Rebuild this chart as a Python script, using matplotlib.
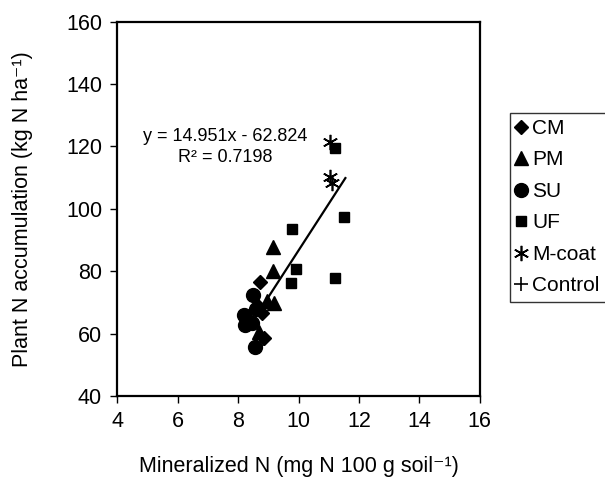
import numpy as np
import matplotlib
matplotlib.use("Agg")
import matplotlib.pyplot as plt

plt.rcParams['font.family'] = ['Liberation Sans', 'DejaVu Sans']

# values
cm_x = [8.72, 8.80, 8.85, 8.65]
cm_y = [76.7, 66.5, 58.5, 69.0]
pm_x = [9.15, 9.15, 9.20, 8.95, 8.70]
pm_y = [87.9, 80.2, 69.8, 70.5, 60.5]
su_x = [8.50, 8.20, 8.22, 8.45, 8.55, 8.60]
su_y = [72.4, 66.0, 62.8, 63.5, 55.8, 68.0]
uf_x = [11.20, 11.50, 9.78, 9.93, 9.74, 11.20]
uf_y = [119.5, 97.3, 93.6, 80.7, 76.1, 77.8]
mc_x = [11.05, 11.05, 11.10]
mc_y = [121.5, 110.3, 108.3]
ctrl_x = [8.62]
ctrl_y = [56.5]

slope = 14.951
intercept = -62.824
fit_x = [8.95, 11.55]

fig = plt.figure(figsize=(6.05, 4.79), dpi=100)
ax = fig.add_axes([0.194, 0.173, 0.599, 0.782])

ax.plot(cm_x, cm_y, 'D', color='black', ms=7.5, ls='none', label='CM')
ax.plot(pm_x, pm_y, '^', color='black', ms=10, ls='none', label='PM')
ax.plot(su_x, su_y, 'o', color='black', ms=10, ls='none', label='SU')
ax.plot(uf_x, uf_y, 's', color='black', ms=7.5, ls='none', label='UF')
ax.plot(mc_x, mc_y, marker=(6, 2, 0), color='black', ms=11, mew=1.2,
        ls='none', label='M-coat')
ax.plot(ctrl_x, ctrl_y, '+', color='black', ms=10, mew=1.2, ls='none',
        label='Control')

fx = np.array(fit_x)
ax.plot(fx, slope * fx + intercept, color='black', lw=1.6)

ax.text(7.58, 121.6, 'y = 14.951x - 62.824', fontsize=13, ha='center',
        va='baseline')
ax.text(7.58, 115.1, 'R² = 0.7198', fontsize=13, ha='center',
        va='baseline')

ax.set_xlim(4, 16)
ax.set_ylim(40, 160)
ax.set_xticks(range(4, 17, 2))
ax.set_yticks(range(40, 161, 20))
ax.tick_params(direction='out', length=5, width=1, labelsize=15.5, pad=6)
for s in ax.spines.values():
    s.set_linewidth(1.6)

ax.set_xlabel('Mineralized N (mg N 100 g soil⁻¹)', fontsize=15.5, labelpad=17)
ax.set_ylabel('Plant N accumulation (kg N ha⁻¹)', fontsize=15.5, labelpad=24)

leg = fig.legend(loc='upper left', bbox_to_anchor=(0.843, 0.765),
                 frameon=True, fancybox=False, edgecolor='black',
                 fontsize=15, handlelength=0.5, handletextpad=0.25,
                 labelspacing=0.6, borderpad=0.3, borderaxespad=0)
leg.get_frame().set_linewidth(1)

fig.savefig('out.png', dpi=100)
